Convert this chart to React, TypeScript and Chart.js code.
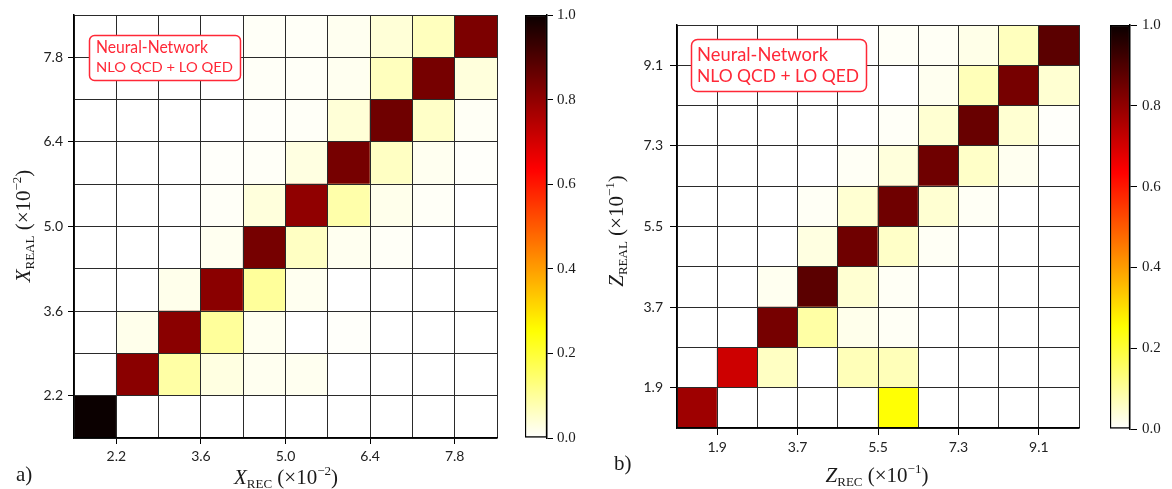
import React, { useEffect, useRef } from 'react';
import { Chart, registerables } from 'chart.js';

Chart.register(...registerables);

// ---------- data ----------
const tickPositions = [1, 3, 5, 7, 9];
const xRecLabels = ['2.2', '3.6', '5.0', '6.4', '7.8'];
const xRealLabels = ['2.2', '3.6', '5.0', '6.4', '7.8'];
const zRecLabels = ['1.9', '3.7', '5.5', '7.3', '9.1'];
const zRealLabels = ['1.9', '3.7', '5.5', '7.3', '9.1'];
const colorbarTicks = [0, 0.2, 0.4, 0.6, 0.8, 1.0];

// rows listed from bottom (row 0) to top (row 9); columns left to right
const xMatrix = [
  [1.0, 0, 0, 0, 0, 0, 0, 0, 0, 0],
  [0, 0.81, 0.09, 0.03, 0.015, 0.015, 0, 0, 0, 0],
  [0, 0.02, 0.81, 0.1, 0.015, 0, 0.005, 0, 0, 0],
  [0, 0, 0.02, 0.81, 0.1, 0.015, 0, 0, 0, 0],
  [0, 0, 0, 0.015, 0.84, 0.06, 0.015, 0.008, 0, 0],
  [0, 0, 0, 0.008, 0.035, 0.8, 0.085, 0.02, 0.008, 0],
  [0, 0, 0, 0.005, 0.008, 0.03, 0.84, 0.06, 0.015, 0.005],
  [0, 0, 0, 0, 0.005, 0.008, 0.04, 0.85, 0.055, 0.01],
  [0, 0, 0, 0, 0.008, 0.008, 0.015, 0.065, 0.84, 0.035],
  [0, 0, 0, 0, 0.008, 0.008, 0.015, 0.04, 0.065, 0.83],
];

const zMatrix = [
  [0.78, 0, 0, 0, 0, 0.25, 0, 0, 0, 0],
  [0, 0.71, 0.06, 0, 0.07, 0.07, 0, 0, 0, 0],
  [0, 0, 0.84, 0.09, 0.02, 0.01, 0, 0, 0, 0],
  [0, 0, 0.015, 0.88, 0.045, 0.01, 0, 0, 0, 0],
  [0, 0, 0, 0.03, 0.85, 0.055, 0.01, 0, 0, 0],
  [0, 0, 0, 0.01, 0.045, 0.85, 0.045, 0.01, 0, 0],
  [0, 0, 0, 0, 0.01, 0.035, 0.85, 0.055, 0.015, 0],
  [0, 0, 0, 0, 0, 0.008, 0.045, 0.86, 0.045, 0.005],
  [0, 0, 0, 0, 0, 0, 0.015, 0.07, 0.84, 0.045],
  [0, 0, 0, 0, 0, 0.008, 0.01, 0.023, 0.065, 0.88],
];

// ---------- colormap (matplotlib hot_r) ----------
function hotR(v: number): string {
  const x = 1 - Math.max(0, Math.min(1, v));
  const r = Math.min(1, 0.0416 + ((1 - 0.0416) * x) / 0.365079);
  const g = Math.max(0, Math.min(1, (x - 0.365079) / (0.746032 - 0.365079)));
  const b = Math.max(0, Math.min(1, (x - 0.746032) / (1 - 0.746032)));
  return `rgb(${Math.round(r * 255)},${Math.round(g * 255)},${Math.round(b * 255)})`;
}

const RED = 'rgb(255,40,55)';
const SERIF = '"Liberation Serif", "DejaVu Serif", serif';
const SANS = 'Lato, "Open Sans", sans-serif';

type Seg = { t: string; font: string; dy?: number };

function drawRich(ctx: CanvasRenderingContext2D, segs: Seg[], cx: number, cy: number, rot: number) {
  ctx.save();
  let total = 0;
  for (const s of segs) {
    ctx.font = s.font;
    total += ctx.measureText(s.t).width;
  }
  ctx.translate(cx, cy);
  ctx.rotate(rot);
  ctx.textAlign = 'left';
  ctx.textBaseline = 'alphabetic';
  ctx.fillStyle = '#1a1a1a';
  let x = -total / 2;
  for (const s of segs) {
    ctx.font = s.font;
    ctx.fillText(s.t, x, s.dy || 0);
    x += ctx.measureText(s.t).width;
  }
  ctx.restore();
}

function drawFitted(ctx: CanvasRenderingContext2D, text: string, x: number, y: number, font: string, targetW: number) {
  ctx.save();
  ctx.font = font;
  const w = ctx.measureText(text).width;
  ctx.translate(x, y);
  ctx.scale(targetW / w, 1);
  ctx.textAlign = 'left';
  ctx.textBaseline = 'alphabetic';
  ctx.fillStyle = RED;
  ctx.fillText(text, 0, 0);
  ctx.restore();
}

function roundRectPath(ctx: CanvasRenderingContext2D, x: number, y: number, w: number, h: number, r: number) {
  ctx.beginPath();
  ctx.moveTo(x + r, y);
  ctx.lineTo(x + w - r, y);
  ctx.arcTo(x + w, y, x + w, y + r, r);
  ctx.lineTo(x + w, y + h - r);
  ctx.arcTo(x + w, y + h, x + w - r, y + h, r);
  ctx.lineTo(x + r, y + h);
  ctx.arcTo(x, y + h, x, y + h - r, r);
  ctx.lineTo(x, y + r);
  ctx.arcTo(x, y, x + r, y, r);
  ctx.closePath();
}

function titleSegs(letter: string, sub: string, exp: string, size: number): Seg[] {
  const small = Math.round(size * 0.64);
  return [
    { t: letter, font: `italic ${size}px ${SERIF}` },
    { t: sub, font: `${small}px ${SERIF}`, dy: size * 0.2 },
    { t: ' (×10', font: `${size}px ${SERIF}` },
    { t: exp, font: `${small}px ${SERIF}`, dy: -size * 0.42 },
    { t: ')', font: `${size}px ${SERIF}` },
  ];
}

type Panel = {
  matrix: number[][];
  xLabels: string[];
  yLabels: string[];
  padTop: number;
  padRight: number;
  yAxisWidth: number;
  xAxisHeight: number;
  tickLen: number;
  xPad: number;
  yPad: number;
  xTitle: Seg[];
  xTitlePos: [number, number];
  yTitle: Seg[];
  yTitlePos: [number, number];
  letter: string;
  letterPos: [number, number];
  box: { x: number; y: number; w: number; h: number; r: number };
  line1: { x: number; y: number; w: number; font: string };
  line2: { x: number; y: number; w: number; font: string };
};

function heatmapConfig(p: Panel): any {
  const datasets = p.matrix.map((row, r) => ({
    data: row.map((_v, c) => ({ x: c + 0.5, y: [r, r + 1] })),
    backgroundColor: row.map((v) => hotR(v)),
    borderWidth: 0,
    barPercentage: 1,
    categoryPercentage: 1,
    grouped: false,
  }));
  const allTicks = (s: any) => {
    s.ticks = Array.from({ length: 11 }, (_x, i) => ({ value: i }));
  };
  const label = (labels: string[]) => (v: any) => {
    const i = tickPositions.indexOf(Number(v));
    return i >= 0 ? labels[i] : '';
  };
  const tickColor = (ctx: any) =>
    ctx.tick && tickPositions.indexOf(ctx.tick.value) >= 0 ? '#000' : 'rgba(0,0,0,0)';
  const decor = {
    id: 'decor',
    afterDraw(chart: any) {
      const ctx = chart.ctx as CanvasRenderingContext2D;
      drawRich(ctx, p.xTitle, p.xTitlePos[0], p.xTitlePos[1], 0);
      drawRich(ctx, p.yTitle, p.yTitlePos[0], p.yTitlePos[1], -Math.PI / 2);
      ctx.save();
      ctx.font = `21px ${SERIF}`;
      ctx.fillStyle = '#1a1a1a';
      ctx.textAlign = 'left';
      ctx.textBaseline = 'alphabetic';
      ctx.fillText(p.letter, p.letterPos[0], p.letterPos[1]);
      const b = p.box;
      roundRectPath(ctx, b.x, b.y, b.w, b.h, b.r);
      ctx.fillStyle = '#fff';
      ctx.fill();
      ctx.lineWidth = 1.5;
      ctx.strokeStyle = RED;
      ctx.stroke();
      ctx.restore();
      drawFitted(ctx, 'Neural-Network', p.line1.x, p.line1.y, p.line1.font, p.line1.w);
      drawFitted(ctx, 'NLO QCD + LO QED', p.line2.x, p.line2.y, p.line2.font, p.line2.w);
    },
  };
  const tickFont = { family: SANS, size: 14 };
  return {
    type: 'bar',
    data: { datasets },
    plugins: [decor],
    options: {
      responsive: false,
      animation: false,
      devicePixelRatio: 1,
      layout: { padding: { top: p.padTop, right: p.padRight, left: 0, bottom: 0 } },
      plugins: { legend: { display: false }, tooltip: { enabled: false } },
      scales: {
        x: {
          type: 'linear',
          min: 0,
          max: 10,
          offset: false,
          afterBuildTicks: allTicks,
          afterFit: (s: any) => {
            s.height = p.xAxisHeight;
          },
          ticks: {
            autoSkip: false,
            maxRotation: 0,
            padding: p.xPad,
            color: '#222',
            font: tickFont,
            callback: label(p.xLabels),
          },
          grid: {
            offset: false,
            z: 1,
            color: '#2a2a2a',
            lineWidth: 1,
            drawTicks: true,
            tickLength: p.tickLen,
            tickColor,
          },
          border: { display: true, color: '#000', width: 1.5, z: 2 },
        },
        y: {
          type: 'linear',
          min: 0,
          max: 10,
          afterBuildTicks: allTicks,
          afterFit: (s: any) => {
            s.width = p.yAxisWidth;
          },
          ticks: {
            autoSkip: false,
            padding: p.yPad,
            color: '#222',
            font: tickFont,
            callback: label(p.yLabels),
          },
          grid: {
            z: 1,
            color: '#2a2a2a',
            lineWidth: 1,
            drawTicks: true,
            tickLength: p.tickLen,
            tickColor,
          },
          border: { display: true, color: '#000', width: 1.5, z: 2 },
        },
      },
    },
  };
}

function colorbarConfig(padLeft: number, padTop: number, padBottom: number, axisWidth: number, tickLen: number, pad: number): any {
  return {
    type: 'bar',
    data: {
      labels: [''],
      datasets: [
        {
          data: [[0, 1]],
          backgroundColor: (ctx: any) => {
            const ch = ctx.chart;
            const a = ch.chartArea;
            if (!a) return '#fff';
            const g = ch.ctx.createLinearGradient(0, a.bottom, 0, a.top);
            for (let i = 0; i <= 100; i++) g.addColorStop(i / 100, hotR(i / 100));
            return g;
          },
          borderColor: '#000',
          borderWidth: 1.5,
          borderSkipped: false,
          barPercentage: 1,
          categoryPercentage: 1,
        },
      ],
    },
    options: {
      responsive: false,
      animation: false,
      devicePixelRatio: 1,
      layout: { padding: { left: padLeft, top: padTop, bottom: padBottom, right: 0 } },
      plugins: { legend: { display: false }, tooltip: { enabled: false } },
      scales: {
        x: { display: false },
        y: {
          position: 'right',
          min: 0,
          max: 1,
          afterBuildTicks: (s: any) => {
            s.ticks = colorbarTicks.map((v) => ({ value: v }));
          },
          afterFit: (s: any) => {
            s.width = axisWidth;
          },
          ticks: {
            padding: pad,
            color: '#1a1a1a',
            font: { family: SERIF, size: 15 },
            callback: (v: any) => Number(v).toFixed(1),
          },
          grid: { drawOnChartArea: false, drawTicks: true, tickLength: tickLen, tickColor: '#000' },
          border: { display: true, color: '#000', width: 1.5 },
        },
      },
    },
  };
}

const leftPanel: Panel = {
  matrix: xMatrix,
  xLabels: xRecLabels,
  yLabels: xRealLabels,
  padTop: 15,
  padRight: 23,
  yAxisWidth: 74,
  xAxisHeight: 51,
  tickLen: 6,
  xPad: 4,
  yPad: 5,
  xTitle: titleSegs('X', 'REC', '−2', 21),
  xTitlePos: [286, 484],
  yTitle: titleSegs('X', 'REAL', '−2', 21),
  yTitlePos: [30, 226],
  letter: 'a)',
  letterPos: [16, 481],
  box: { x: 89.5, y: 35.5, w: 151, h: 45, r: 5 },
  line1: { x: 96, y: 53, w: 112, font: `17.5px ${SANS}` },
  line2: { x: 96, y: 72, w: 137, font: `14px ${SANS}` },
};

const rightPanel: Panel = {
  matrix: zMatrix,
  xLabels: zRecLabels,
  yLabels: zRealLabels,
  padTop: 25,
  padRight: 11,
  yAxisWidth: 97,
  xAxisHeight: 61,
  tickLen: 7,
  xPad: 4,
  yPad: 7,
  xTitle: titleSegs('Z', 'REC', '−1', 21),
  xTitlePos: [297, 482],
  yTitle: titleSegs('Z', 'REAL', '−1', 21),
  yTitlePos: [43, 231],
  letter: 'b)',
  letterPos: [34, 470],
  box: { x: 111.5, y: 39.5, w: 175, h: 52, r: 6 },
  line1: { x: 117, y: 61, w: 131, font: `20px ${SANS}` },
  line2: { x: 117, y: 82, w: 162, font: `17px ${SANS}` },
};

function ChartCanvas(props: { make: () => any; left: number; width: number; height: number }) {
  const ref = useRef<HTMLCanvasElement | null>(null);
  useEffect(() => {
    if (!ref.current) return;
    const chart = new Chart(ref.current, props.make());
    return () => chart.destroy();
  }, []);
  return (
    <canvas
      ref={ref}
      width={props.width}
      height={props.height}
      style={{ position: 'absolute', left: props.left, top: 0, width: props.width, height: props.height }}
    />
  );
}

export default function App() {
  return (
    <div style={{ position: 'fixed', left: 0, top: 0, width: 1172, height: 489, background: '#fff', overflow: 'hidden' }}>
      <ChartCanvas make={() => heatmapConfig(leftPanel)} left={0} width={520} height={489} />
      <ChartCanvas make={() => colorbarConfig(20, 15, 51, 33, 6, 4)} left={505} width={75} height={489} />
      <ChartCanvas make={() => heatmapConfig(rightPanel)} left={580} width={510} height={489} />
      <ChartCanvas make={() => colorbarConfig(20, 25, 60, 42, 7, 5)} left={1090} width={82} height={489} />
    </div>
  );
}
